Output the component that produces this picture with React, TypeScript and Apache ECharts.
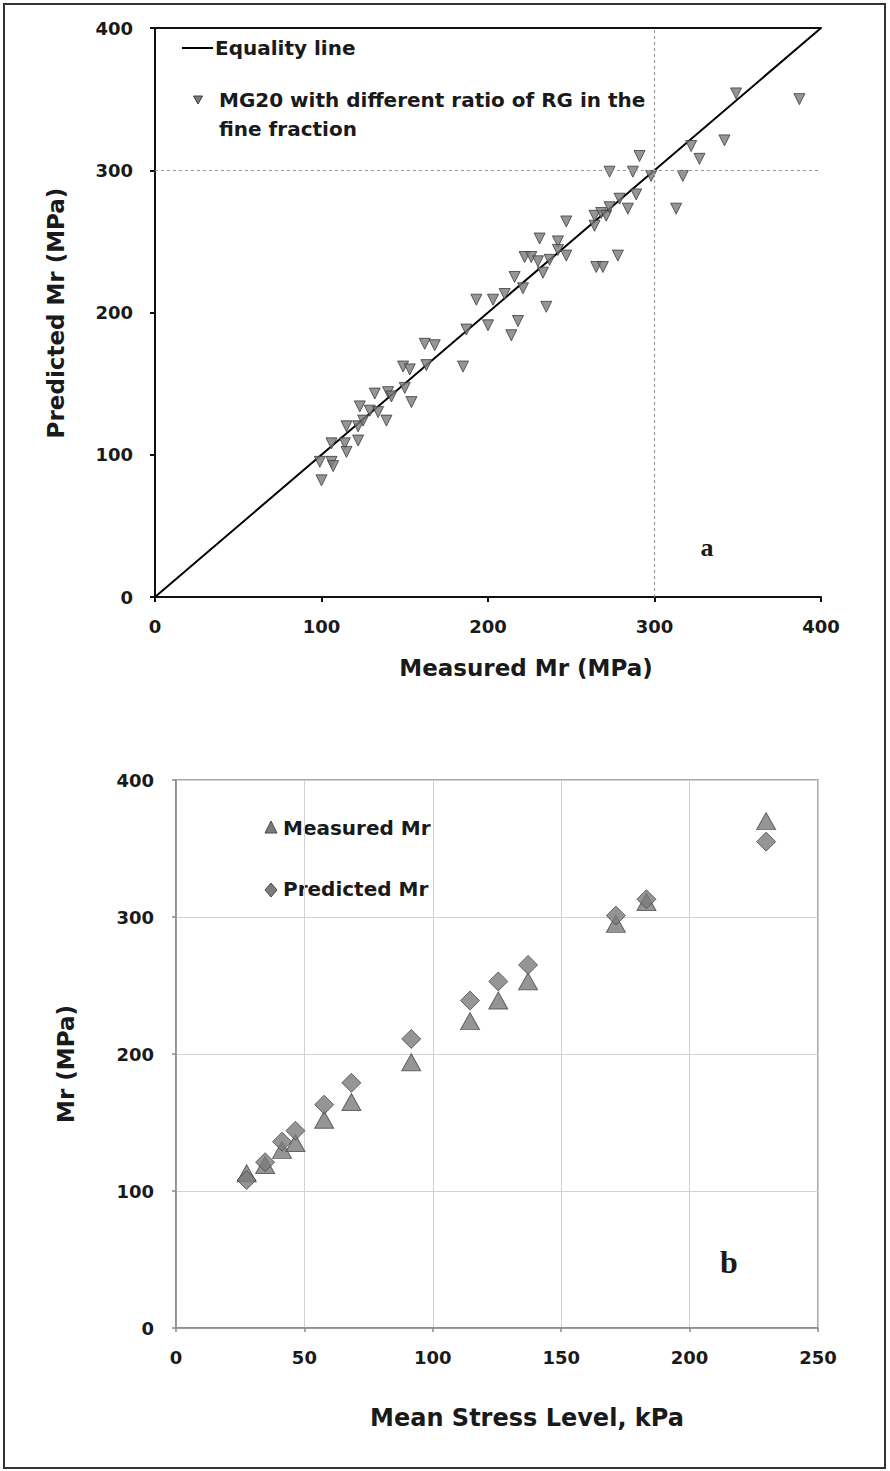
import React, { useEffect, useRef } from "react";
import * as echarts from "echarts";

// ---- Chart a: measured vs predicted Mr (MPa) ----
const measuredA = [
  100, 99, 106, 107, 106, 114, 115, 122, 115, 122, 123, 125, 129, 134, 139, 132, 140, 142, 150, 154,
  149, 153, 163, 162, 168, 185, 187, 193, 200, 203, 210, 214, 218, 216, 221, 222, 226, 230, 233, 235,
  231, 237, 242, 242, 247, 247, 264, 264, 268, 271, 273, 265, 269, 273, 279, 284, 289, 287, 291, 298,
  278, 313, 317, 322, 327, 342, 349, 387,
];
const predictedA = [
  82, 95, 95, 92, 108, 108, 102, 110, 120, 120, 134, 124, 131, 130, 124, 143, 144, 141, 147, 137,
  162, 160, 163, 178, 177, 162, 188, 209, 191, 209, 213, 184, 194, 225, 217, 239, 239, 236, 228, 204,
  252, 237, 250, 244, 264, 240, 261, 268, 270, 268, 274, 232, 232, 299, 280, 273, 283, 299, 310, 296,
  240, 273, 296, 317, 308, 321, 354, 350,
];
const equalityLine = [0, 400];
const ticksA = [0, 100, 200, 300, 400];
const gridLineA = 300;

// ---- Chart b: Mr versus mean stress level ----
const stressB = [27.5, 34.7, 41.3, 46.5, 57.7, 68.3, 91.6, 114.5, 125.5, 137.1, 171.3, 183.2, 229.8];
const measuredB = [113, 119, 130, 135, 152, 165, 194, 224, 239, 253, 295, 311, 370];
const predictedB = [108, 121, 136, 144, 163, 179, 211, 239, 253, 265, 301, 313, 355];
const ticksBx = [0, 50, 100, 150, 200, 250];
const ticksBy = [0, 100, 200, 300, 400];

const SANS = "'DejaVu Sans', sans-serif";
const TXT = "#1a1a1a";

export default function App() {
  const ref = useRef<HTMLDivElement>(null);

  useEffect(() => {
    document.body.style.margin = "0";
    if (!ref.current) return;
    const chart = echarts.init(ref.current, undefined, { renderer: "svg" });

    const labelStyle = {
      fontFamily: SANS,
      fontWeight: "bold" as const,
      fontSize: 18,
      color: TXT,
    };
    const darkLine = { lineStyle: { color: "#111", width: 2 } };
    const grayLine = { lineStyle: { color: "#8a8a8a", width: 1.5 } };
    const txt = (text: string, x: number, y: number, font: string, align = "left", extra: any = {}) => ({
      type: "text",
      x,
      y,
      ...extra,
      style: { text, font, fill: TXT, align, verticalAlign: "middle", textAlign: align, textVerticalAlign: "middle" },
    });

    const option: any = {
      animation: false,
      backgroundColor: "#fff",
      grid: [
        { left: 155, top: 28, width: 666, height: 569 },
        { left: 176, top: 780, width: 642, height: 548, show: true, borderColor: "#8a8a8a", borderWidth: 1.5 },
      ],
      xAxis: [
        {
          gridIndex: 0,
          type: "value",
          min: ticksA[0],
          max: ticksA[ticksA.length - 1],
          interval: 100,
          axisLine: darkLine,
          axisTick: { show: true, length: 5, inside: false, ...darkLine },
          axisLabel: { ...labelStyle, margin: 20 },
          splitLine: { show: false },
        },
        {
          gridIndex: 1,
          type: "value",
          min: ticksBx[0],
          max: ticksBx[ticksBx.length - 1],
          interval: 50,
          axisLine: grayLine,
          axisTick: { show: true, length: 4, ...grayLine },
          axisLabel: { ...labelStyle, margin: 20 },
          splitLine: { show: true, lineStyle: { color: "#d2d2d2", width: 1 } },
        },
        {
          gridIndex: 0,
          type: "value",
          position: "top",
          min: 0,
          max: 400,
          axisLine: darkLine,
          axisTick: { show: false },
          axisLabel: { show: false },
          splitLine: { show: false },
        },
      ],
      yAxis: [
        {
          gridIndex: 0,
          type: "value",
          min: ticksA[0],
          max: ticksA[ticksA.length - 1],
          interval: 100,
          axisLine: darkLine,
          axisTick: { show: true, length: 5, ...darkLine },
          axisLabel: { ...labelStyle, margin: 22 },
          splitLine: { show: false },
        },
        {
          gridIndex: 1,
          type: "value",
          min: ticksBy[0],
          max: ticksBy[ticksBy.length - 1],
          interval: 100,
          axisLine: grayLine,
          axisTick: { show: true, length: 4, ...grayLine },
          axisLabel: { ...labelStyle, margin: 22 },
          splitLine: { show: true, lineStyle: { color: "#d2d2d2", width: 1 } },
        },
      ],
      series: [
        {
          name: "Equality line",
          type: "line",
          xAxisIndex: 0,
          yAxisIndex: 0,
          data: [
            [equalityLine[0], equalityLine[0]],
            [equalityLine[1], equalityLine[1]],
          ],
          symbol: "none",
          lineStyle: { color: "#000", width: 2 },
          z: 2,
          markLine: {
            silent: true,
            symbol: ["none", "none"],
            label: { show: false },
            lineStyle: { color: "#9a9a9a", width: 1.2, type: [3, 3] },
            data: [{ xAxis: gridLineA }, { yAxis: gridLineA }],
          },
        },
        {
          name: "MG20 with different ratio of RG in the fine fraction",
          type: "scatter",
          xAxisIndex: 0,
          yAxisIndex: 0,
          data: measuredA.map((m, i) => [m, predictedA[i]]),
          symbol: "triangle",
          symbolRotate: 180,
          symbolSize: 11,
          itemStyle: { color: "#7a7a7a", borderColor: "#3c3c3c", borderWidth: 1 },
          z: 3,
        },
        {
          name: "Measured Mr",
          type: "scatter",
          xAxisIndex: 1,
          yAxisIndex: 1,
          data: stressB.map((s, i) => [s, measuredB[i]]),
          symbol: "triangle",
          symbolSize: [19, 17],
          itemStyle: { color: "#7b7b7b", borderColor: "#4a4a4a", borderWidth: 1 },
          z: 3,
        },
        {
          name: "Predicted Mr",
          type: "scatter",
          xAxisIndex: 1,
          yAxisIndex: 1,
          data: stressB.map((s, i) => [s, predictedB[i]]),
          symbol: "diamond",
          symbolSize: [19, 19],
          itemStyle: { color: "#7b7b7b", borderColor: "#4a4a4a", borderWidth: 1 },
          z: 4,
        },
      ],
      graphic: [
        {
          type: "rect",
          shape: { x: 4, y: 4, width: 881, height: 1464 },
          style: { fill: "none", stroke: "#333", lineWidth: 2 },
          silent: true,
        },
        // legend a
        {
          type: "line",
          shape: { x1: 182, y1: 48, x2: 213, y2: 48 },
          style: { stroke: "#000", lineWidth: 2 },
        },
        txt("Equality line", 215, 48, `bold 20px ${SANS}`),
        {
          type: "polygon",
          shape: { points: [[193.5, 96], [202.5, 96], [198, 104]] },
          style: { fill: "#7a7a7a", stroke: "#3c3c3c", lineWidth: 1 },
        },
        txt("MG20 with different ratio of RG in the", 219, 100, `bold 20px ${SANS}`),
        txt("fine fraction", 219, 129, `bold 20px ${SANS}`),
        txt("a", 707, 547, "bold 26px 'Liberation Serif', serif", "center"),
        // axis titles a
        txt("Measured Mr (MPa)", 526, 668, `bold 23px ${SANS}`, "center"),
        txt("Predicted Mr (MPa)", 56, 313, `bold 23px ${SANS}`, "center", { rotation: Math.PI / 2 }),
        // legend b
        {
          type: "polygon",
          shape: { points: [[265, 833], [277, 833], [271, 821]] },
          style: { fill: "#7b7b7b", stroke: "#4a4a4a", lineWidth: 1 },
        },
        txt("Measured Mr", 283, 828, `bold 20px ${SANS}`),
        {
          type: "polygon",
          shape: { points: [[271, 883], [277, 890], [271, 897], [265, 890]] },
          style: { fill: "#7b7b7b", stroke: "#4a4a4a", lineWidth: 1 },
        },
        txt("Predicted Mr", 283, 889, `bold 20px ${SANS}`),
        txt("b", 729, 1262, "bold 32px 'Liberation Serif', serif", "center"),
        // axis titles b
        txt("Mean Stress Level, kPa", 527, 1418, `bold 24px ${SANS}`, "center"),
        txt("Mr (MPa)", 66, 1064, `bold 23px ${SANS}`, "center", { rotation: Math.PI / 2 }),
      ],
    };

    chart.setOption(option);
    return () => chart.dispose();
  }, []);

  return <div ref={ref} style={{ width: 890, height: 1471 }} />;
}
